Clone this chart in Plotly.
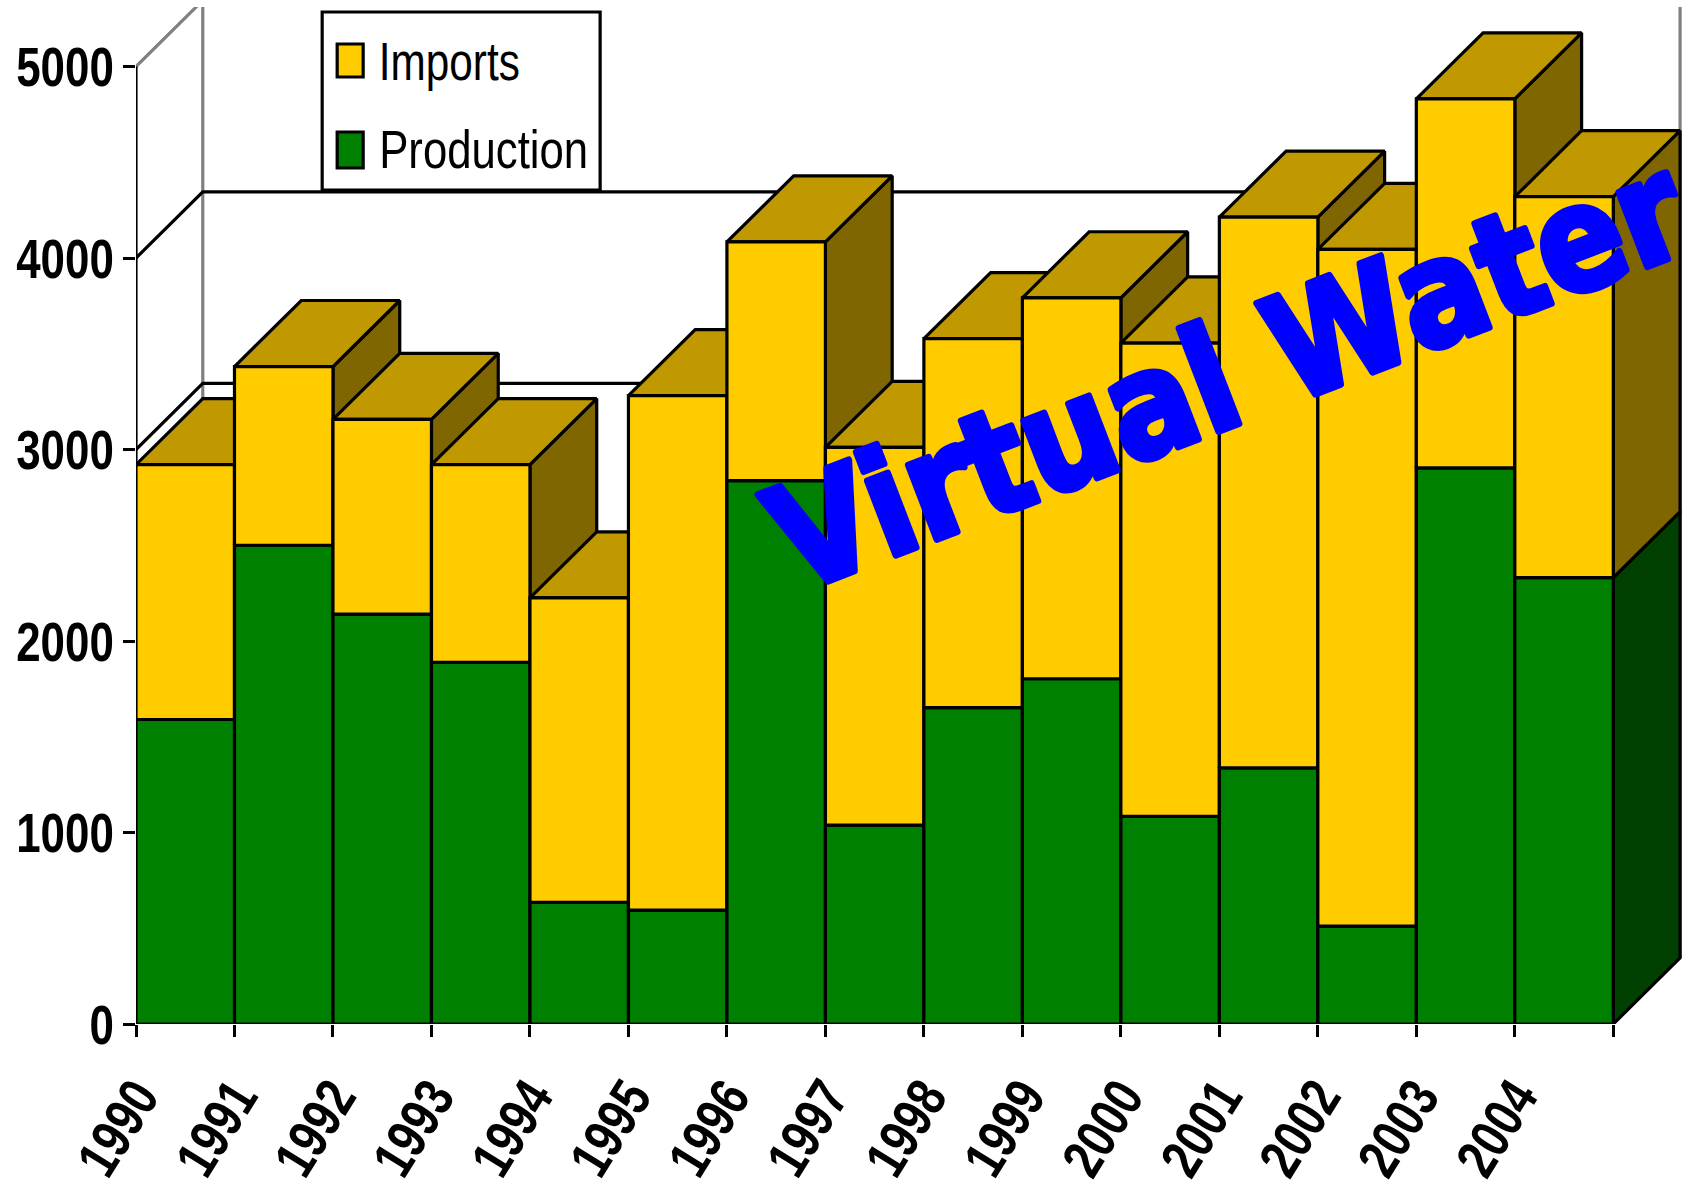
import plotly.graph_objects as go

YEARS = [1990, 1991, 1992, 1993, 1994, 1995, 1996, 1997, 1998, 1999, 2000, 2001, 2002, 2003, 2004]
PRODUCTION = [1590, 2500, 2140, 1888, 635, 595, 2837, 1039, 1652, 1803, 1084, 1337, 511, 2904, 2331]
IMPORTS = [1331, 933, 1017, 1033, 1590, 2686, 1247, 1972, 1927, 1989, 2472, 2876, 3534, 1927, 1989]
Y_TICKS = [0, 1000, 2000, 3000, 4000, 5000]
GRID_BLACK = [3000, 4000]

DEPTH_X = 0.678   # receding depth, in category bands
DEPTH_Y = 345     # receding depth, in value units

GREEN, GREEN_SIDE = "#008000", "#004000"
YELLOW, YELLOW_TOP, YELLOW_SIDE = "#FFCC00", "#C09900", "#806600"
LW = 3.2
FONT = "Liberation Sans"

fig = go.Figure()


def face(xs, ys, color, name):
    fig.add_trace(go.Scatter(
        x=xs + xs[:1], y=ys + ys[:1], mode="lines", fill="toself", fillcolor=color,
        line=dict(color="black", width=LW), name=name, hoverinfo="skip",
        showlegend=False, cliponaxis=False))


def wall(xs, ys, color, name, clip=True, width=LW):
    fig.add_trace(go.Scatter(
        x=xs, y=ys, mode="lines", line=dict(color=color, width=width), name=name,
        hoverinfo="skip", showlegend=False, cliponaxis=clip))


n = len(YEARS)
top_y = 5000 + DEPTH_Y
wall([0, DEPTH_X], [5000, top_y], "#808080", "wall 5000")
wall([DEPTH_X, DEPTH_X], [DEPTH_Y, top_y], "#808080", "back wall left")
wall([n + DEPTH_X, n + DEPTH_X], [DEPTH_Y, top_y], "#808080", "back wall right")
for g in GRID_BLACK:
    wall([0, DEPTH_X, n + DEPTH_X], [g, g + DEPTH_Y, g + DEPTH_Y], "black", f"grid {g}")
wall([0, 0], [0, 5000], "black", "axis", clip=False)

for i, (yr, p, m) in enumerate(zip(YEARS, PRODUCTION, IMPORTS)):
    t = p + m
    x0, x1 = i, i + 1
    face([x1, x1 + DEPTH_X, x1 + DEPTH_X, x1], [0, DEPTH_Y, p + DEPTH_Y, p], GREEN_SIDE, f"{yr} production side")
    face([x1, x1 + DEPTH_X, x1 + DEPTH_X, x1], [p, p + DEPTH_Y, t + DEPTH_Y, t], YELLOW_SIDE, f"{yr} imports side")
    face([x0, x0 + DEPTH_X, x1 + DEPTH_X, x1], [t, t + DEPTH_Y, t + DEPTH_Y, t], YELLOW_TOP, f"{yr} imports top")
    face([x0, x1, x1, x0], [0, 0, p, p], GREEN, f"{yr} Production")
    face([x0, x1, x1, x0], [p, p, t, t], YELLOW, f"{yr} Imports")

W, H = 1687, 1189
L, R, T, B = 135.8, 0, 7, 165
fig.update_layout(
    template="none",
    width=W, height=H, autosize=False,
    margin=dict(l=L, r=R, t=T, b=B, pad=0),
    paper_bgcolor="white", plot_bgcolor="white", showlegend=False,
    xaxis=dict(
        automargin=False,
        range=[0, (W - L) / 98.5], tickmode="array",
        tickvals=list(range(n + 1)), ticktext=[str(y) for y in YEARS] + [""],
        tickangle=-58, ticks="outside", ticklen=12, tickwidth=LW, tickcolor="black",
        tickfont=dict(family=FONT, size=56, color="black", weight="bold"),
        showgrid=False, zeroline=False, showline=False, ticklabelstandoff=5, ticklabelshift=1),
    yaxis=dict(
        automargin=False,
        range=[0, (H - T - B) / 191.5 * 1000], tickmode="array", tickvals=Y_TICKS,
        ticks="outside", ticklen=12, tickwidth=LW, tickcolor="black",
        tickfont=dict(family=FONT, size=56, color="black", weight="bold"),
        showgrid=False, zeroline=False, showline=False, ticklabelstandoff=-2),
)


def px(x): return (x - L) / (W - L - R)
def py(y): return 1 - (y - T) / (H - T - B)


shapes = [dict(type="rect", xref="paper", yref="paper", x0=px(322), x1=px(600), y0=py(190), y1=py(12),
               fillcolor="white", line=dict(color="black", width=LW))]
for (y0, y1, c) in [(44, 77, YELLOW), (132, 168, GREEN)]:
    shapes.append(dict(type="rect", xref="paper", yref="paper", x0=px(337), x1=px(363), y0=py(y1), y1=py(y0),
                       fillcolor=c, line=dict(color="black", width=LW)))
annotations = [
    dict(text=txt, xref="paper", yref="paper", x=px(xc), y=py(yc), xanchor="center", yanchor="middle",
         showarrow=False, font=dict(family=FONT, size=53, color="black"))
    for txt, xc, yc in [("Imports", 449, 62), ("Production", 483, 149)]
]
annotations.append(dict(
    text="Virtual Water", xref="paper", yref="paper", x=px(1228), y=py(374), xanchor="center", yanchor="middle",
    showarrow=False, textangle=-21, font=dict(family="DejaVu Sans", size=145, color="#0000FF", weight="bold")))
fig.update_layout(shapes=shapes, annotations=annotations)

POST = """
document.body.style.margin='0';document.body.style.overflow='hidden';
function squeeze(sel, len){document.querySelectorAll(sel).forEach(function(t){
  if(t.textContent.trim()){t.setAttribute('lengthAdjust','spacingAndGlyphs');t.setAttribute('textLength',len(t.textContent));}
});}
squeeze('.ytick text',function(s){return 24.4*s.length;});
squeeze('.xtick text',function(s){return 25*s.length;});
squeeze('.annotation-text',function(s){
  if(s==='Imports')return 141; if(s==='Production')return 209; return 965;});
document.querySelectorAll('.annotation-text').forEach(function(t){
  if(t.textContent.indexOf('Virtual')===0){t.style.stroke='#0000FF';t.style.strokeWidth='7px';t.style.strokeLinejoin='round';}
});
"""
fig.write_html("out.html", config={"displayModeBar": False}, post_script=POST)
